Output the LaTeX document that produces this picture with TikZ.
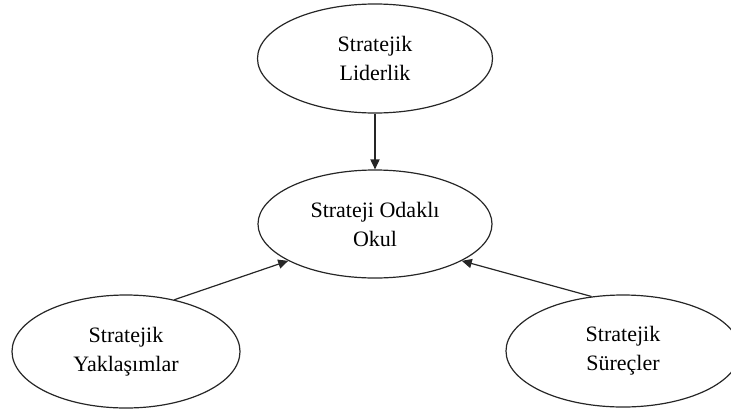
\documentclass[tikz,border=0pt]{standalone}
\usepackage{fontspec}
\setmainfont{Liberation Serif}
\usetikzlibrary{shapes.geometric,arrows.meta}
\begin{document}
\begin{tikzpicture}[x=0.5pt,y=-0.5pt,
    oval/.style={draw=black!85,line width=0.6pt,ellipse,inner sep=0pt,align=center,
      font=\fontsize{11}{14.5}\selectfont},
    link/.style={draw=black!85,line width=0.6pt,-{Triangle[length=5pt,width=4.6pt]}}]
        \useasboundingbox (0,0) rectangle (731,412);
        \node[oval,minimum width=117.5pt,minimum height=54.5pt] (lider) at (375,58.5) {Stratejik\\Liderlik};
        \node[oval,minimum width=117pt,minimum height=54pt] (okul) at (375,224) {Strateji Odaklı\\Okul};
        \node[oval,minimum width=114pt,minimum height=56.5pt] (yaklasim) at (126,351.5) {Stratejik\\Yaklaşımlar};
        \node[oval,minimum width=117pt,minimum height=56pt] (surec) at (623,351) {Stratejik\\Süreçler};
        \draw[link] (lider.south) -- (okul.north);
        \draw[link] (yaklasim.47) -- (okul.203);
        \draw[link] (surec.120) -- (okul.337);
      \end{tikzpicture}
\end{document}
